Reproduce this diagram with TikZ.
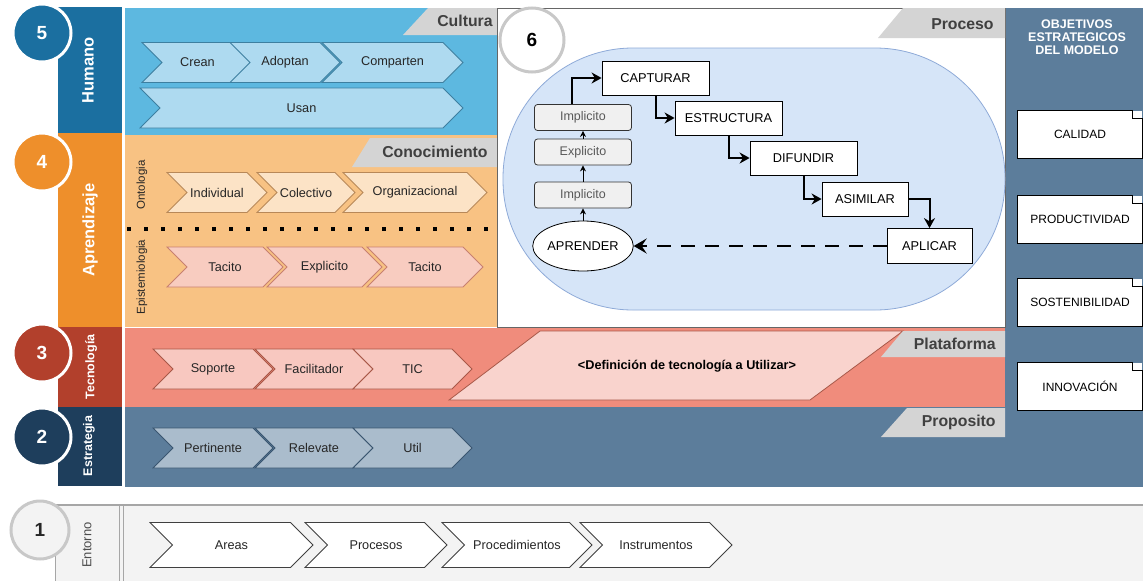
\documentclass[tikz,border=0pt]{standalone}
\usepackage{fontspec}
\setmainfont{Liberation Sans}
\usetikzlibrary{arrows.meta, shapes.geometric, shapes.symbols}
\definecolor{chum}{HTML}{1B6FA0}
\definecolor{ccult}{HTML}{5DB8E0}
\definecolor{ccultlt}{HTML}{AEDAF0}
\definecolor{ccultdk}{HTML}{3D7FA0}
\definecolor{capr}{HTML}{EE8F2B}
\definecolor{ccono}{HTML}{F8C283}
\definecolor{contolt}{HTML}{FCE3C6}
\definecolor{contodk}{HTML}{B88858}
\definecolor{cepislt}{HTML}{F8CCC0}
\definecolor{cepisdk}{HTML}{C88070}
\definecolor{ctec}{HTML}{B2402C}
\definecolor{cplat}{HTML}{F08C7C}
\definecolor{cplatlt}{HTML}{F8C8C0}
\definecolor{cplatdk}{HTML}{A85848}
\definecolor{cest}{HTML}{1E3E5C}
\definecolor{cprop}{HTML}{5C7D9B}
\definecolor{cproplt}{HTML}{AABCCC}
\definecolor{cpropdk}{HTML}{3A5670}
\definecolor{ctab}{HTML}{D4D4D4}
\definecolor{ctabtxt}{HTML}{404040}
\definecolor{cenv}{HTML}{F3F3F3}
\definecolor{cring}{HTML}{C8C8C8}
\definecolor{cproc}{HTML}{D6E5F8}
\definecolor{cprocdk}{HTML}{8EAAD8}
\definecolor{cstep}{HTML}{F0F0F0}
\tikzset{
  every picture/.style={line width=0.8pt},
  num/.style={circle, draw=white, line width=3pt, fill=#1, text=white, minimum size=58pt, inner sep=0pt, font=\fontsize{19}{19}\selectfont\bfseries},
  barlabel/.style={rotate=90, text=white, inner sep=0pt, font=\fontsize{16.5}{18}\selectfont\bfseries},
  smallbar/.style={barlabel, font=\fontsize{12.5}{14}\selectfont\bfseries},
  sidelabel/.style={rotate=90, text=black!85, inner sep=0pt, font=\fontsize{11.5}{13}\selectfont},
  tab/.style={fill=ctab, draw=none},
  tabtext/.style={anchor=east, text=ctabtxt, inner sep=0pt, font=\fontsize{15.8}{17}\selectfont\bfseries},
  chev/.style={shape=signal, signal from=west, signal to=east, signal pointer angle=90, minimum height=40pt, inner sep=0pt, text=black!85, font=\fontsize{12.7}{14}\selectfont},
  cultchev/.style={chev, fill=ccultlt, draw=ccultdk},
  ontochev/.style={chev, fill=contolt, draw=contodk},
  epischev/.style={chev, fill=cepislt, draw=cepisdk},
  platchev/.style={chev, fill=cplatlt, draw=cplatdk},
  propchev/.style={chev, fill=cproplt, draw=cpropdk},
  envchev/.style={chev, fill=white, draw=black!75, minimum height=45pt, font=\fontsize{12.7}{14}\selectfont},
  stepbox/.style={draw=black, fill=white, minimum width=107pt, minimum height=34pt, inner sep=0pt, font=\fontsize{12.8}{14}\selectfont},
  knowbox/.style={draw=black!80, fill=cstep, rounded corners=3pt, minimum width=97pt, minimum height=26pt, inner sep=0pt, text=black!65, font=\fontsize{12.5}{14}\selectfont},
  objbox/.style={fill=white, minimum width=124pt, minimum height=47pt, inner sep=0pt, font=\fontsize{12}{14}\selectfont},
  flow/.style={-{Stealth[length=10pt, width=11pt]}, line width=2pt},
  climb/.style={-{Stealth[length=6pt, width=6pt]}, line width=1pt},
  loopback/.style={-{Stealth[length=13pt, width=15pt, inset=5pt]}, line width=2.5pt, dash pattern=on 14pt off 10pt},
}
\begin{document}
\begin{tikzpicture}[x=1pt, y=-1pt]
  \useasboundingbox (0,0) rectangle (1143,581);
  \fill[chum] (58,7) rectangle (122,133);
  \fill[ccult] (125,8) rectangle (497,135);
  \fill[capr] (58,133) rectangle (122,327);
  \fill[ccono] (125,135) rectangle (497,327);
  \fill[ctec] (58,327) rectangle (122,407);
  \fill[cplat] (125,328) rectangle (1005,407);
  \fill[cest] (58,407) rectangle (122,486);
  \fill[cprop] (125,407) rectangle (1005,487);
  \fill[cprop] (1005,8) rectangle (1143,487);
  \fill[cenv] (55,505) rectangle (1143,581);
  \draw[black!35, line width=1.5pt] (55,505) -- (1143,505);
  \draw[black!35] (55,505) -- (55,581) (119,505) -- (119,581) (123,505) -- (123,581);

  \fill[tab] (428,8) -- (497,8) -- (497,35) -- (403,35) -- cycle;
  \node[tabtext] (cultura) at (493,21) {Cultura};
  \node[cultchev, minimum width=111pt] (crean) at (197.5,62.5) {Crean};
  \node[cultchev, minimum width=110pt] (adoptan) at (285,62.5) {Adoptan};
  \node[cultchev, minimum width=141pt] (comparten) at (392.5,62.5) {Comparten};
  \node[cultchev, minimum width=323pt] (usan) at (301.5,108) {Usan};

  \fill[tab] (370,138) -- (497,138) -- (497,167) -- (352,167) -- cycle;
  \node[tabtext] (conocimiento) at (488,152) {Conocimiento};
  \node[sidelabel] (ontologia) at (142,185) {Ontologia};
  \node[sidelabel] (epistemiologia) at (142,277) {Epistemiologia};
  \node[ontochev, minimum width=100pt] (individual) at (217,192.5) {Individual};
  \node[ontochev, minimum width=98pt] (colectivo) at (306,192.5) {Colectivo};
  \node[ontochev, minimum width=144pt] (organizacional) at (415,192.5) {Organizacional};
  \draw[line width=4pt, dash pattern=on 4pt off 13pt] (127,229) -- (497,229);
  \node[epischev, minimum width=116pt] (tacitoa) at (225,267) {Tacito};
  \node[epischev, minimum width=115pt] (explicitoa) at (324.5,267) {Explicito};
  \node[epischev, minimum width=116pt] (tacitob) at (425,267) {Tacito};

  \filldraw[fill=white, draw=black!60] (497,8) rectangle (1005,327);
  \filldraw[fill=cproc, draw=cprocdk, rounded corners=130pt] (503,48) rectangle (1005,310);
  \fill[tab] (903,8) -- (1005,8) -- (1005,38) -- (878,38) -- cycle;
  \node[tabtext] (proceso) at (994,24) {Proceso};
  \node[circle, draw=cring, line width=3pt, fill=white, minimum size=64pt, inner sep=0pt, font=\fontsize{19}{19}\selectfont\bfseries] (seis) at (532,40) {6};
  \node[stepbox] (capturar) at (655.5,78) {CAPTURAR};
  \node[stepbox] (estructura) at (728.5,118) {ESTRUCTURA};
  \node[stepbox] (difundir) at (803.5,158) {DIFUNDIR};
  \node[stepbox, minimum width=86pt] (asimilar) at (865,199) {ASIMILAR};
  \node[stepbox, minimum width=85pt, minimum height=35pt] (aplicar) at (929.5,246) {APLICAR};
  \node[ellipse, draw=black, fill=white, minimum width=83pt, minimum height=50pt, inner sep=0pt, font=\fontsize{12.8}{14}\selectfont] (aprender) at (583,246) {APRENDER};
  \node[knowbox] (implicitoa) at (583,195) {Implicito};
  \node[knowbox] (explicitob) at (583,152) {Explicito};
  \node[knowbox] (implicitob) at (583,117.5) {Implicito};
  \draw[climb] (aprender) -- (implicitoa);
  \draw[climb] (implicitoa) -- (explicitob);
  \draw[climb] (explicitob) -- (implicitob);
  \draw[flow] ([xshift=-11pt]implicitob.north) |- (capturar.west);
  \draw[flow] (capturar.south) |- (estructura.west);
  \draw[flow] (estructura.south) |- (difundir.west);
  \draw[flow] (difundir.south) |- (asimilar.west);
  \draw[flow] (asimilar.east) -| (aplicar.north);
  \draw[loopback] (aplicar.west) -- (aprender.east);

  \node[platchev, minimum width=120pt] (soporte) at (213,369) {Soporte};
  \node[platchev, minimum width=118pt] (facilitador) at (314,369) {Facilitador};
  \node[platchev, minimum width=119pt] (tic) at (412.5,369) {TIC};
  \filldraw[fill=cplatlt!80!white, draw=cplatdk] (449,400) -- (540,331) -- (903,331) -- (810,400) -- cycle;
  \node[font=\fontsize{12.7}{14}\selectfont\bfseries] (definicion) at (687,366) {<Definición de tecnología a Utilizar>};
  \fill[tab] (903,331) -- (1005,331) -- (1005,357) -- (881,357) -- cycle;
  \node[tabtext] (plataforma) at (996,344) {Plataforma};

  \node[propchev, minimum width=120pt] (pertinente) at (213,448) {Pertinente};
  \node[propchev, minimum width=118pt] (relevate) at (314,448) {Relevate};
  \node[propchev, minimum width=119pt] (util) at (412.5,448) {Util};
  \fill[tab] (907,408) -- (1005,408) -- (1005,437) -- (881,437) -- cycle;
  \node[tabtext] (proposito) at (996,422) {Proposito};

  \node[align=center, text=white, inner sep=0pt, font=\fontsize{12.5}{13}\selectfont\bfseries] (objetivos) at (1077,37.5) {OBJETIVOS\\ESTRATEGICOS\\DEL MODELO};
  \node[objbox] (calidad) at (1080,134.5) {CALIDAD};
  \node[objbox] (productividad) at (1080,219) {PRODUCTIVIDAD};
  \node[objbox] (sostenibilidad) at (1080,302) {SOSTENIBILIDAD};
  \node[objbox] (innovacion) at (1080,386.5) {INNOVACIÓN};
  \draw (calidad.north west) -- ([xshift=-10pt]calidad.north east) |- ([yshift=-8pt]calidad.north east) -- (calidad.south east) -- (calidad.south west) -- cycle;
  \draw (productividad.north west) -- ([xshift=-10pt]productividad.north east) |- ([yshift=-8pt]productividad.north east) -- (productividad.south east) -- (productividad.south west) -- cycle;
  \draw (sostenibilidad.north west) -- ([xshift=-10pt]sostenibilidad.north east) |- ([yshift=-8pt]sostenibilidad.north east) -- (sostenibilidad.south east) -- (sostenibilidad.south west) -- cycle;
  \draw (innovacion.north west) -- ([xshift=-10pt]innovacion.north east) |- ([yshift=-8pt]innovacion.north east) -- (innovacion.south east) -- (innovacion.south west) -- cycle;

  \node[envchev, minimum width=163pt] (areas) at (231.5,545) {Areas};
  \node[envchev, minimum width=142pt] (procesos) at (376,545) {Procesos};
  \node[envchev, minimum width=150pt] (procedimientos) at (517,545) {Procedimientos};
  \node[envchev, minimum width=152pt] (instrumentos) at (656,545) {Instrumentos};
  \node[rotate=90, text=black!70, inner sep=0pt, font=\fontsize{13}{14}\selectfont] (entorno) at (87,545) {Entorno};

  \node[num=chum] (cinco) at (42,33) {5};
  \node[num=capr] (cuatro) at (42,162) {4};
  \node[num=ctec] (tres) at (42,353) {3};
  \node[num=cest] (dos) at (42,437) {2};
  \node[circle, draw=cring, line width=3pt, fill=cenv, minimum size=58pt, inner sep=0pt, text=black!85, font=\fontsize{19}{19}\selectfont\bfseries] (uno) at (40,530) {1};
  \node[barlabel] (humano) at (88,70) {Humano};
  \node[barlabel] (aprendizaje) at (90,230) {Aprendizaje};
  \node[smallbar] (tecnologia) at (91,367) {Tecnología};
  \node[smallbar] (estrategia) at (89,446) {Estrategia};
\end{tikzpicture}
\end{document}
